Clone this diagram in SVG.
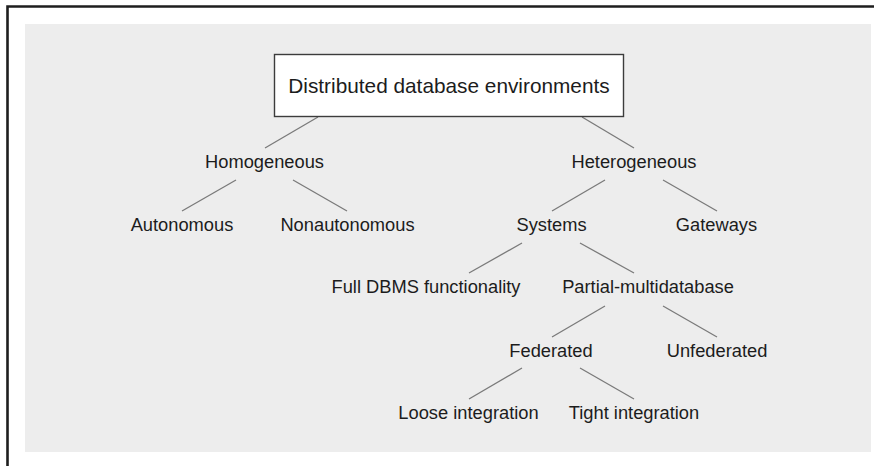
<svg xmlns="http://www.w3.org/2000/svg" width="874" height="466" viewBox="0 0 874 466">
  <style>
    .lbl { font-family: "Liberation Sans", Arial, sans-serif; font-size: 18.3px; fill: #1c1c1c; text-anchor: middle; }
    .root { font-size: 20.8px; }
    .edge { stroke: #7a7a7a; stroke-width: 1.3; fill: none; }
  </style>
  <!-- page frame and shaded panel -->
  <rect x="0" y="0" width="874" height="466" fill="#ffffff"/>
  <path d="M7.5,470 V6.5 H880" fill="none" stroke="#1e1e1e" stroke-width="2.6"/>
  <rect x="25" y="24" width="846" height="428" fill="#ededed"/>

  <!-- connectors -->
  <g id="connectors" class="edge">
    <line x1="318" y1="117" x2="265" y2="148"/>
    <line x1="236" y1="180" x2="182" y2="211"/>
    <line x1="293" y1="180" x2="347" y2="211"/>
    <line x1="582" y1="117" x2="634" y2="148"/>
    <line x1="605" y1="180" x2="552" y2="211"/>
    <line x1="663" y1="180" x2="717" y2="211"/>
    <line x1="522" y1="243" x2="469" y2="273"/>
    <line x1="580" y1="243" x2="634" y2="273"/>
    <line x1="605" y1="306" x2="552" y2="337"/>
    <line x1="663" y1="306" x2="717" y2="337"/>
    <line x1="522" y1="368" x2="469" y2="399"/>
    <line x1="580" y1="368" x2="634" y2="399"/>
  </g>

  <!-- nodes -->
  <g id="node-root">
    <rect x="274.5" y="54.5" width="349" height="62" fill="#ffffff" stroke="#3c3c3c" stroke-width="1.4"/>
    <text class="lbl root" x="449" y="93">Distributed database environments</text>
  </g>
  <g id="node-homogeneous"><text class="lbl" x="264.5" y="168">Homogeneous</text></g>
  <g id="node-heterogeneous"><text class="lbl" x="634" y="168">Heterogeneous</text></g>
  <g id="node-autonomous"><text class="lbl" x="182" y="231">Autonomous</text></g>
  <g id="node-nonautonomous"><text class="lbl" x="347.5" y="231">Nonautonomous</text></g>
  <g id="node-systems"><text class="lbl" x="551.5" y="231">Systems</text></g>
  <g id="node-gateways"><text class="lbl" x="716.5" y="231">Gateways</text></g>
  <g id="node-full-dbms"><text class="lbl" x="426" y="293">Full DBMS functionality</text></g>
  <g id="node-partial-multidatabase"><text class="lbl" x="648" y="293">Partial-multidatabase</text></g>
  <g id="node-federated"><text class="lbl" x="551" y="357">Federated</text></g>
  <g id="node-unfederated"><text class="lbl" x="717" y="357">Unfederated</text></g>
  <g id="node-loose"><text class="lbl" x="468.5" y="419">Loose integration</text></g>
  <g id="node-tight"><text class="lbl" x="634" y="419">Tight integration</text></g>
</svg>
